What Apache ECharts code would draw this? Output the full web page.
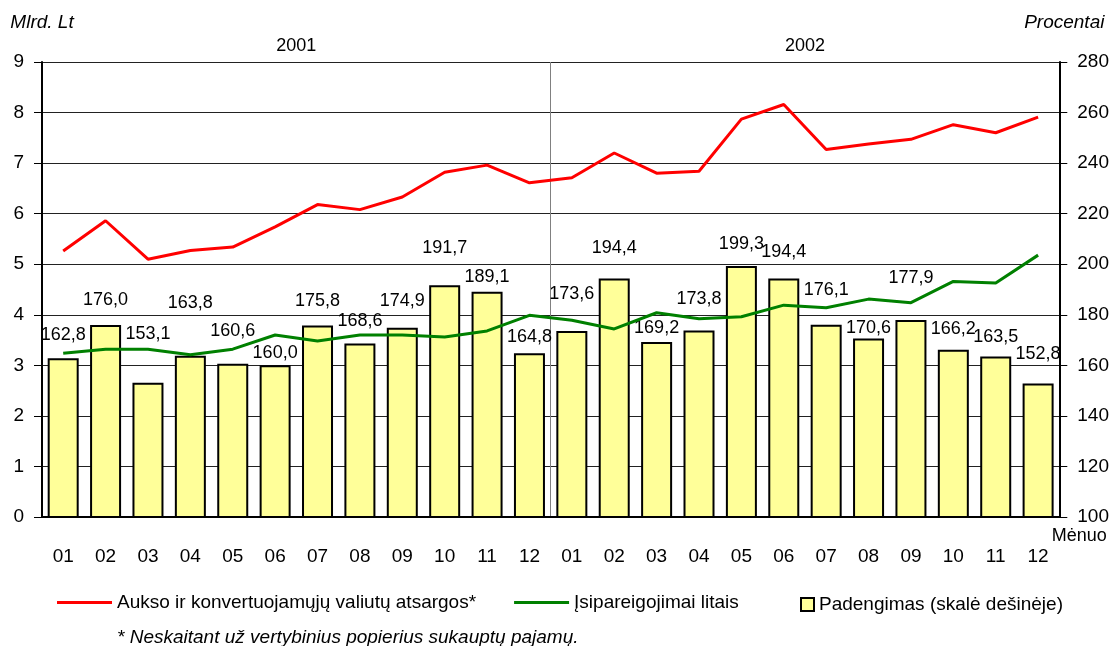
<!DOCTYPE html>
<html>
<head>
<meta charset="utf-8">
<script src="https://cdn.jsdelivr.net/npm/echarts@6/dist/echarts.min.js"></script>
<style>
  html, body { margin: 0; padding: 0; background: #fff; }
  #chart { width: 1112px; height: 646px; }
</style>
</head>
<body>
<div id="chart"></div>
<script>
const months = ["01","02","03","04","05","06","07","08","09","10","11","12",
                "01","02","03","04","05","06","07","08","09","10","11","12"];
const years = ["2001", "2002"];
const yLeftTicks = [0, 9, 1];
const yRightTicks = [100, 280, 20];

// Mlrd. Lt
const reserves = [5.26, 5.86, 5.10, 5.27, 5.34, 5.74, 6.18, 6.08, 6.33, 6.82, 6.96, 6.61,
                  6.71, 7.20, 6.80, 6.84, 7.87, 8.16, 7.27, 7.38, 7.47, 7.76, 7.60, 7.91];
const liabilities = [3.24, 3.32, 3.32, 3.21, 3.32, 3.60, 3.48, 3.60, 3.60, 3.56, 3.68, 3.99,
                     3.89, 3.72, 4.04, 3.92, 3.96, 4.19, 4.14, 4.31, 4.24, 4.66, 4.63, 5.18];
// Procentai
const coverage = [162.8, 176.0, 153.1, 163.8, 160.6, 160.0, 175.8, 168.6, 174.9, 191.7, 189.1, 164.8,
                  173.6, 194.4, 169.2, 173.8, 199.3, 194.4, 176.1, 170.6, 177.9, 166.2, 163.5, 152.8];

// how far each value label floats above its bar (px)
const labelGap = [14, 16, 40, 44, 24, 3, 15, 14, 18, 28, 6, 7,
                  28, 21, 5, 22, 13, 17, 26, 2, 33, 12, 10, 21];

const names = {
  reserves: "Aukso ir konvertuojamųjų valiutų atsargos*",
  liabilities: "Įsipareigojimai litais",
  coverage: "Padengimas (skalė dešinėje)"
};

const font = "'Liberation Sans', Arial, sans-serif";
const txt = { color: "#000", fontFamily: font, fontSize: 18 };

let chart = echarts.init(document.getElementById("chart"), null, { renderer: "canvas" });

chart.setOption({
  animation: false,
  textStyle: { fontFamily: font },
  title: {
    text: "* Neskaitant už vertybinius popierius sukauptų pajamų.",
    left: 112, top: 623,
    textStyle: { ...txt, fontSize: 19, fontStyle: "italic", fontWeight: "normal" }
  },
  grid: { left: 42, right: 50, top: 62, bottom: 129 },
  legend: [
    {
      data: [
        { name: names.reserves, icon: "rect" },
        { name: names.liabilities, icon: "rect" }
      ],
      left: 52, top: 588,
      itemWidth: 55, itemHeight: 3, itemGap: 38,
      textStyle: { ...txt, fontSize: 19 }
    },
    {
      data: [names.coverage],
      left: 795, top: 590,
      icon: "rect",
      itemWidth: 13, itemHeight: 13,
      textStyle: { ...txt, fontSize: 19 }
    }
  ],
  xAxis: [
    {
      type: "category",
      data: months,
      position: "bottom",
      axisLine: { lineStyle: { color: "#000", width: 2 } },
      axisTick: { show: false },
      axisLabel: { ...txt, fontSize: 19, margin: 30 },
      name: "Mėnuo",
      nameLocation: "end",
      nameGap: 20,
      nameTextStyle: { ...txt, align: "center", verticalAlign: "top", padding: [10, 0, 0, 0] }
    },
    {
      type: "category",
      data: years,
      position: "top",
      axisLine: { show: false },
      axisTick: { show: false },
      axisLabel: { ...txt, margin: 7 },
      splitLine: { show: true, lineStyle: { color: "#808080", width: 1 } }
    }
  ],
  yAxis: [
    {
      type: "value",
      min: yLeftTicks[0], max: yLeftTicks[1], interval: yLeftTicks[2],
      name: "Mlrd. Lt",
      nameGap: 30,
      nameTextStyle: { ...txt, fontSize: 19, fontStyle: "italic" },
      axisLine: { show: true, lineStyle: { color: "#000", width: 2 } },
      axisTick: { show: true, length: 8, lineStyle: { color: "#000" } },
      axisLabel: { ...txt, fontSize: 19, margin: 18 },
      splitLine: { lineStyle: { color: "#222", width: 1 } }
    },
    {
      type: "value",
      min: yRightTicks[0], max: yRightTicks[1], interval: yRightTicks[2],
      name: "Procentai",
      nameGap: 30,
      nameTextStyle: { ...txt, fontSize: 19, fontStyle: "italic", padding: [0, 0, 0, 10] },
      axisLine: { show: true, lineStyle: { color: "#000", width: 2 } },
      axisTick: { show: true, length: 8, lineStyle: { color: "#000" } },
      axisLabel: { ...txt, fontSize: 19, margin: 18 },
      splitLine: { show: false }
    }
  ],
  series: [
    {
      name: names.coverage,
      type: "bar",
      yAxisIndex: 1,
      barWidth: 31,
      data: coverage.map((v, i) => ({ value: v, label: { distance: labelGap[i] } })),
      itemStyle: { color: "#FFFF99", borderColor: "#000", borderWidth: 2 },
      label: {
        show: true,
        position: "top",
        ...txt,
        fontSize: 18,
        formatter: (p) => p.value.toFixed(1).replace(".", ",")
      }
    },
    {
      name: names.reserves,
      type: "line",
      data: reserves,
      symbol: "none",
      lineStyle: { color: "#FF0000", width: 3 },
      itemStyle: { color: "#FF0000" }
    },
    {
      name: names.liabilities,
      type: "line",
      data: liabilities,
      symbol: "none",
      lineStyle: { color: "#008000", width: 3 },
      itemStyle: { color: "#008000" }
    }
  ]
});
</script>
</body>
</html>
